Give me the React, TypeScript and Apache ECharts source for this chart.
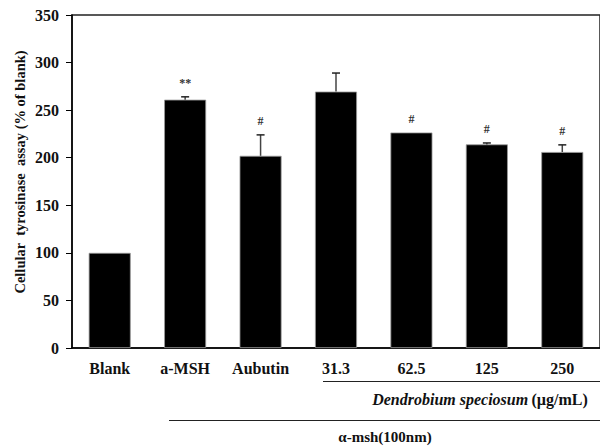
import React, { useEffect, useRef } from "react";
import * as echarts from "echarts";

const categories = ["Blank", "a-MSH", "Aubutin", "31.3", "62.5", "125", "250"];
const meanValues = [100, 261, 202, 269.5, 226.5, 214, 206];
const errorUpper = [100, 264, 224, 289, 226.5, 215.5, 213.5];
const sigMarks = ["", "**", "#", "", "#", "#", "#"];
const yTicks = { min: 0, max: 350, interval: 50 };

const FONT = "'Liberation Serif', 'Times New Roman', serif";

export default function App() {
  const ref = useRef<HTMLDivElement>(null);
  useEffect(() => {
    if (!ref.current) return;
    const chart = echarts.init(ref.current, undefined, { renderer: "svg" });
    const errData = categories.map((_, i) => [i, meanValues[i], errorUpper[i]]);
    const sigData = categories.map((_, i) => [i, errorUpper[i], sigMarks[i]]);
    chart.setOption({
      animation: false,
      backgroundColor: "#fff",
      grid: { left: 72, top: 15, right: -3, bottom: 98, show: true, borderColor: "#222", borderWidth: 1.5, backgroundColor: "transparent" },
      xAxis: {
        type: "category",
        data: categories,
        axisLine: { lineStyle: { color: "#000", width: 1.5 } },
        axisTick: { show: false },
        axisLabel: { margin: 12, fontFamily: FONT, fontWeight: "bold", fontSize: 16, color: "#111" },
      },
      yAxis: {
        type: "value",
        min: yTicks.min,
        max: yTicks.max,
        interval: yTicks.interval,
        splitLine: { show: false },
        axisLine: { show: true, lineStyle: { color: "#000", width: 1.5 } },
        axisTick: { show: true, inside: false, length: 6, lineStyle: { color: "#000" } },
        axisLabel: { margin: 13, fontFamily: FONT, fontWeight: "bold", fontSize: 16, color: "#111" },
      },
      series: [
        {
          type: "bar",
          data: meanValues,
          barWidth: 42,
          itemStyle: { color: "#000", borderColor: "#999", borderWidth: 0.8 },
          z: 2,
        },
        {
          type: "custom",
          data: errData,
          z: 3,
          renderItem: (params: any, api: any) => {
            const x = api.value(0);
            if (api.value(2) <= api.value(1)) return { type: "group", children: [] };
            const lo = api.coord([x, api.value(1)]);
            const hi = api.coord([x, api.value(2)]);
            const w = 4;
            return {
              type: "group",
              children: [
                { type: "line", shape: { x1: lo[0], y1: lo[1], x2: hi[0], y2: hi[1] }, style: { stroke: "#444", lineWidth: 1.5 } },
                { type: "line", shape: { x1: hi[0] - w, y1: hi[1], x2: hi[0] + w, y2: hi[1] }, style: { stroke: "#222", lineWidth: 1.5 } },
              ],
            };
          },
        },
        {
          type: "custom",
          data: sigData,
          z: 4,
          renderItem: (params: any, api: any) => {
            const idx = params.dataIndex;
            const txt = sigMarks[idx];
            const p = api.coord([api.value(0), api.value(1)]);
            return {
              type: "text",
              x: p[0],
              y: p[1] - 8,
              style: { text: txt, fontFamily: FONT, fontWeight: "bold", fontSize: 12, fill: "#333", align: "center", verticalAlign: "bottom" },
            };
          },
        },
      ],
      graphic: [
        {
          type: "text",
          x: 20,
          y: 172,
          rotation: Math.PI / 2,
          style: {
            text: "Cellular  tyrosinase  assay (% of blank)",
            fontFamily: FONT,
            fontWeight: "bold",
            fontSize: 14.5,
            fill: "#111",
            align: "center",
            verticalAlign: "middle",
          },
        },
        { type: "line", shape: { x1: 323, y1: 381.5, x2: 600, y2: 381.5 }, style: { stroke: "#222", lineWidth: 1.2 } },
        {
          type: "text",
          x: 480,
          y: 399,
          style: {
            text: "{i|Dendrobium speciosum} {b|(µg/mL)}",
            align: "center",
            verticalAlign: "middle",
            rich: {
              i: { fontFamily: FONT, fontStyle: "italic", fontWeight: "bold", fontSize: 16, fill: "#111" },
              b: { fontFamily: FONT, fontWeight: "bold", fontSize: 16, fill: "#111" },
            },
          },
        },
        { type: "line", shape: { x1: 169, y1: 420.5, x2: 600, y2: 420.5 }, style: { stroke: "#222", lineWidth: 1.2 } },
        {
          type: "text",
          x: 385,
          y: 437,
          style: { text: "α-msh(100nm)", fontFamily: FONT, fontWeight: "bold", fontSize: 15, fill: "#111", align: "center", verticalAlign: "middle" },
        },
      ],
    });
    return () => chart.dispose();
  }, []);
  return <div ref={ref} style={{ width: 600, height: 446, position: "absolute", left: 0, top: 0 }} />;
}
